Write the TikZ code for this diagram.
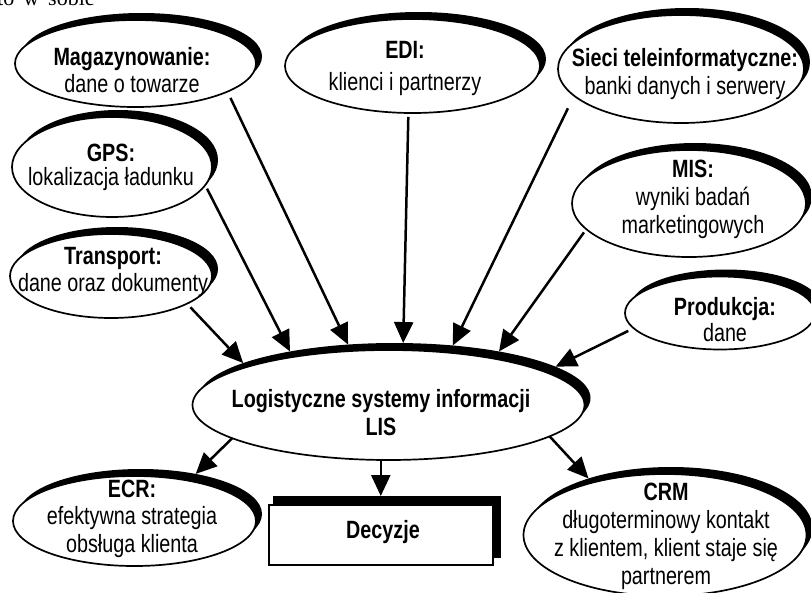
\documentclass[tikz,border=0pt]{standalone}
\usepackage{fontspec}
\setmainfont{Liberation Sans}[FakeStretch=0.79]
\newfontfamily\bookserif{Liberation Serif}
\usetikzlibrary{shapes.geometric,arrows.meta}

\newcommand\bubble[5]{%
  \node[bshadow, minimum width=#4pt, minimum height=#5pt] (#1-s) at ({#2+6},{#3-7}) {};
  \node[bwhite, minimum width=#4pt, minimum height=#5pt] (#1) at (#2,#3) {};
}

\begin{document}
\begin{tikzpicture}[x=1pt,y=-1pt,
  bshadow/.style={ellipse, fill=black, inner sep=0pt, outer sep=0pt},
  bwhite/.style={ellipse, draw=black, fill=white, line width=1.7pt, inner sep=0pt, outer sep=0pt},
  txt/.style={anchor=base, align=center, inner sep=0pt, font=\fontsize{25}{28}\selectfont},
  arr/.style={line width=2.5pt, -{Triangle[length=21pt,width=19pt]}},
  boxshadow/.style={rectangle, fill=black, inner sep=0pt, outer sep=0pt},
  boxwhite/.style={rectangle, draw=black, fill=white, line width=1.7pt, inner sep=0pt, outer sep=0pt}
]
\fill[white] (0,0) rectangle (811,592);
\useasboundingbox (0,0) rectangle (811,592);

\node[anchor=base west, inner sep=0pt, font=\bookserif\fontsize{22}{26}\selectfont] (frag) at (-3,5) {\spaceskip=9pt to w sobie};

% bubbles
\bubble{mag}{135.5}{63.5}{241}{87}
\bubble{edi}{412.5}{66}{255}{94}
\bubble{sieci}{681}{69}{246}{108}
\bubble{gps}{112}{167}{200}{100}
\bubble{transport}{111}{276}{202}{84}
\bubble{mis}{689}{203.5}{234}{107}
\bubble{prod}{720}{313}{190}{73}
\bubble{lis}{388.5}{405}{392}{110}
\bubble{ecr}{134.5}{521}{243}{90}
\bubble{crm}{665}{535}{283}{122}

\node[boxshadow, minimum width=228pt, minimum height=62pt] (dec-s) at (387,527) {};
\node[boxwhite, minimum width=224pt, minimum height=60pt] (dec) at (381,535) {};

% texts (anchor = baseline of the last line)
\node[txt, font=\fontsize{25}{27}\selectfont] (mag-t) at (132,92) {\textbf{Magazynowanie:}\\dane o towarze};
\node[txt, font=\fontsize{25}{32}\selectfont] (edi-t) at (405,90) {\textbf{EDI:}\\klienci i partnerzy};
\node[txt] (sieci-t) at (685,94) {\textbf{Sieci teleinformatyczne:}\\banki danych i serwery};
\node[txt, font=\fontsize{25}{23.5}\selectfont] (gps-t) at (111,185) {\textbf{GPS:}\\lokalizacja ładunku};
\node[txt, font=\fontsize{25}{27}\selectfont] (transport-t) at (113,291) {\textbf{Transport:}\\dane oraz dokumenty};
\node[txt] (mis-t) at (693,233) {\textbf{MIS:}\\wyniki badań\\marketingowych};
\node[txt, font=\fontsize{25}{26}\selectfont] (prod-t) at (725,341) {\textbf{Produkcja:}\\dane};
\node[txt] (lis-t) at (381,435) {\textbf{Logistyczne systemy informacji}\\\textbf{LIS}};
\node[txt, font=\fontsize{25}{27.5}\selectfont] (ecr-t) at (132,552) {\textbf{ECR:}\\efektywna strategia\\obsługa klienta};
\node[txt] (dec-t) at (383,538) {\textbf{Decyzje}};
\node[txt, font=\fontsize{25}{27.7}\selectfont] (crm-t) at (666,584) {\textbf{CRM}\\długoterminowy kontakt\\z klientem, klient staje się\\partnerem};

% connectors
\draw[arr, shorten <=5pt] (transport.-20) -- (lis-s.167);
\draw[arr, shorten <=4pt] (gps.-11.5) -- (lis-s.156);
\draw[arr, shorten <=7pt] (mag.-17) -- (lis-s.131);
\draw[arr, shorten <=4pt] (edi.-95) -- (lis-s.81);
\draw[arr, shorten <=14pt] (sieci.-166) -- (lis-s.42);
\draw[arr, shorten <=4pt] (mis.-166) -- (lis-s.24.5);
\draw[arr, shorten <=6pt] (prod.-170) -- (lis-s.11);
\draw[arr] (lis.-168.6) -- (ecr-s.36.6);
\draw[arr] (lis.-98) -- (lis.-98 |- dec-s.north);
\draw[arr] (lis.-11) -- (crm-s.149);
\end{tikzpicture}
\end{document}
